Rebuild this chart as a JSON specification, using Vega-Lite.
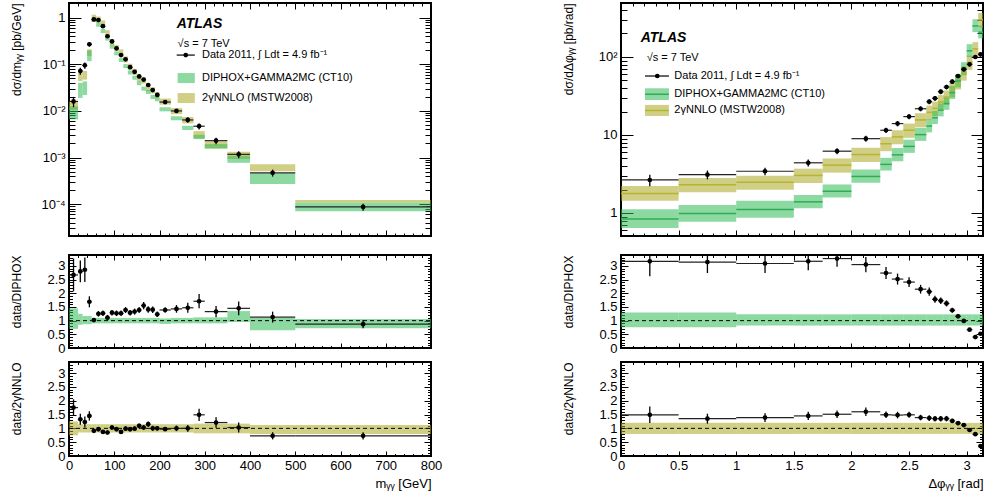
{
"$schema": "https://vega.github.io/schema/vega-lite/v6.json",
"padding": {"left": 8, "top": 1, "right": 0, "bottom": 0},
"config": {
  "font": "Liberation Sans",
  "view": {"stroke": "#000", "strokeWidth": 2},
  "axis": {"domain": false, "grid": false, "labelFont": "Liberation Sans", "labelFontSize": 13, "labelColor": "#000", "tickColor": "#000", "tickWidth": 1, "titleFont": "Liberation Sans", "titleFontSize": 12, "titleFontWeight": "normal", "titleColor": "#000", "labelOverlap": false, "labelFlush": false, "labelBound": false},
  "text": {"font": "Liberation Sans"}
},
"datasets": {
"mass": [
{"lo":0,"hi":20,"c":10,"d":0.016,"de":0.004,"D":0.009,"Dlo":0.0066,"Dhi":0.0125,"N":0.013,"Nlo":0.0105,"Nhi":0.016,"r1":2.67,"r1e":0.6,"r2":1.75,"r2e":0.3,"g1lo":0.7,"g1hi":1.45,"g2lo":0.75,"g2hi":1.25},
{"lo":20,"hi":30,"c":25,"d":0.072,"de":0.012,"D":0.028,"Dlo":0.019,"Dhi":0.04,"N":0.054,"Nlo":0.044,"Nhi":0.066,"r1":2.8,"r1e":0.4,"r2":1.33,"r2e":0.2,"g1lo":0.85,"g1hi":1.25,"g2lo":0.85,"g2hi":1.15},
{"lo":30,"hi":40,"c":35,"d":0.095,"de":0.015,"D":0.031,"Dlo":0.022,"Dhi":0.043,"N":0.058,"Nlo":0.047,"Nhi":0.072,"r1":2.86,"r1e":0.45,"r2":1.23,"r2e":0.2,"g1lo":0.87,"g1hi":1.17,"g2lo":0.85,"g2hi":1.15},
{"lo":40,"hi":50,"c":45,"d":0.27,"de":0.03,"D":0.155,"Dlo":0.117,"Dhi":0.2,"N":0.18,"Nlo":0.15,"Nhi":0.21,"r1":1.69,"r1e":0.2,"r2":1.45,"r2e":0.17,"g1lo":0.87,"g1hi":1.17,"g2lo":0.85,"g2hi":1.15},
{"lo":50,"hi":60,"c":55,"d":0.92,"de":0.06,"D":0.9,"Dlo":0.81,"Dhi":0.99,"N":1.01,"Nlo":0.86,"Nhi":1.16,"r1":1.02,"r1e":0.07,"r2":0.91,"r2e":0.06,"g1lo":0.9,"g1hi":1.1,"g2lo":0.85,"g2hi":1.15},
{"lo":60,"hi":70,"c":65,"d":0.89,"de":0.07,"D":0.712,"Dlo":0.64,"Dhi":0.78,"N":0.918,"Nlo":0.78,"Nhi":1.06,"r1":1.25,"r1e":0.1,"r2":0.97,"r2e":0.08,"g1lo":0.9,"g1hi":1.1,"g2lo":0.85,"g2hi":1.15},
{"lo":70,"hi":80,"c":75,"d":0.66,"de":0.05,"D":0.52,"Dlo":0.468,"Dhi":0.572,"N":0.759,"Nlo":0.645,"Nhi":0.873,"r1":1.27,"r1e":0.1,"r2":0.87,"r2e":0.07,"g1lo":0.9,"g1hi":1.1,"g2lo":0.85,"g2hi":1.15},
{"lo":80,"hi":90,"c":85,"d":0.4,"de":0.03,"D":0.36,"Dlo":0.324,"Dhi":0.396,"N":0.471,"Nlo":0.4,"Nhi":0.54,"r1":1.11,"r1e":0.1,"r2":0.85,"r2e":0.07,"g1lo":0.9,"g1hi":1.1,"g2lo":0.85,"g2hi":1.15},
{"lo":90,"hi":100,"c":95,"d":0.31,"de":0.025,"D":0.24,"Dlo":0.216,"Dhi":0.264,"N":0.301,"Nlo":0.256,"Nhi":0.346,"r1":1.29,"r1e":0.1,"r2":1.03,"r2e":0.08,"g1lo":0.9,"g1hi":1.1,"g2lo":0.85,"g2hi":1.15},
{"lo":100,"hi":110,"c":105,"d":0.22,"de":0.018,"D":0.173,"Dlo":0.156,"Dhi":0.19,"N":0.227,"Nlo":0.193,"Nhi":0.261,"r1":1.27,"r1e":0.1,"r2":0.97,"r2e":0.08,"g1lo":0.9,"g1hi":1.1,"g2lo":0.85,"g2hi":1.15},
{"lo":110,"hi":120,"c":115,"d":0.158,"de":0.013,"D":0.124,"Dlo":0.112,"Dhi":0.136,"N":0.182,"Nlo":0.155,"Nhi":0.209,"r1":1.27,"r1e":0.1,"r2":0.87,"r2e":0.07,"g1lo":0.9,"g1hi":1.1,"g2lo":0.85,"g2hi":1.15},
{"lo":120,"hi":130,"c":125,"d":0.128,"de":0.01,"D":0.092,"Dlo":0.083,"Dhi":0.101,"N":0.129,"Nlo":0.11,"Nhi":0.148,"r1":1.39,"r1e":0.11,"r2":0.99,"r2e":0.08,"g1lo":0.9,"g1hi":1.1,"g2lo":0.85,"g2hi":1.15},
{"lo":130,"hi":140,"c":135,"d":0.087,"de":0.007,"D":0.0674,"Dlo":0.0607,"Dhi":0.0741,"N":0.0897,"Nlo":0.0762,"Nhi":0.103,"r1":1.29,"r1e":0.1,"r2":0.97,"r2e":0.08,"g1lo":0.9,"g1hi":1.1,"g2lo":0.85,"g2hi":1.15},
{"lo":140,"hi":150,"c":145,"d":0.069,"de":0.0055,"D":0.0519,"Dlo":0.0467,"Dhi":0.0571,"N":0.0697,"Nlo":0.0592,"Nhi":0.0802,"r1":1.33,"r1e":0.11,"r2":0.99,"r2e":0.08,"g1lo":0.9,"g1hi":1.1,"g2lo":0.85,"g2hi":1.15},
{"lo":150,"hi":160,"c":155,"d":0.055,"de":0.0045,"D":0.0396,"Dlo":0.0356,"Dhi":0.0436,"N":0.0505,"Nlo":0.0429,"Nhi":0.0581,"r1":1.39,"r1e":0.11,"r2":1.09,"r2e":0.09,"g1lo":0.9,"g1hi":1.1,"g2lo":0.85,"g2hi":1.15},
{"lo":160,"hi":170,"c":165,"d":0.047,"de":0.004,"D":0.0303,"Dlo":0.0273,"Dhi":0.0333,"N":0.0456,"Nlo":0.0388,"Nhi":0.0524,"r1":1.55,"r1e":0.13,"r2":1.03,"r2e":0.09,"g1lo":0.9,"g1hi":1.1,"g2lo":0.85,"g2hi":1.15},
{"lo":170,"hi":180,"c":175,"d":0.036,"de":0.003,"D":0.0255,"Dlo":0.023,"Dhi":0.0281,"N":0.0313,"Nlo":0.0266,"Nhi":0.036,"r1":1.41,"r1e":0.12,"r2":1.15,"r2e":0.1,"g1lo":0.9,"g1hi":1.1,"g2lo":0.85,"g2hi":1.15},
{"lo":180,"hi":190,"c":185,"d":0.028,"de":0.0023,"D":0.02,"Dlo":0.018,"Dhi":0.022,"N":0.028,"Nlo":0.0238,"Nhi":0.0322,"r1":1.4,"r1e":0.12,"r2":1.0,"r2e":0.09,"g1lo":0.9,"g1hi":1.1,"g2lo":0.85,"g2hi":1.15},
{"lo":190,"hi":200,"c":195,"d":0.022,"de":0.0018,"D":0.0179,"Dlo":0.0161,"Dhi":0.0197,"N":0.022,"Nlo":0.0187,"Nhi":0.0253,"r1":1.23,"r1e":0.1,"r2":1.0,"r2e":0.08,"g1lo":0.9,"g1hi":1.1,"g2lo":0.85,"g2hi":1.15},
{"lo":200,"hi":225,"c":212.5,"d":0.0155,"de":0.0011,"D":0.01115,"Dlo":0.0098,"Dhi":0.012,"N":0.016,"Nlo":0.0136,"Nhi":0.0184,"r1":1.39,"r1e":0.1,"r2":0.97,"r2e":0.07,"g1lo":0.88,"g1hi":1.08,"g2lo":0.85,"g2hi":1.15},
{"lo":225,"hi":250,"c":237.5,"d":0.01,"de":0.001,"D":0.007,"Dlo":0.0063,"Dhi":0.0077,"N":0.01,"Nlo":0.0085,"Nhi":0.0115,"r1":1.43,"r1e":0.14,"r2":1.0,"r2e":0.1,"g1lo":0.9,"g1hi":1.1,"g2lo":0.85,"g2hi":1.15},
{"lo":250,"hi":275,"c":262.5,"d":0.0064,"de":0.0008,"D":0.00435,"Dlo":0.0039,"Dhi":0.0048,"N":0.0064,"Nlo":0.0054,"Nhi":0.0074,"r1":1.47,"r1e":0.18,"r2":1.0,"r2e":0.12,"g1lo":0.9,"g1hi":1.1,"g2lo":0.85,"g2hi":1.15},
{"lo":275,"hi":300,"c":287.5,"d":0.0047,"de":0.0007,"D":0.00275,"Dlo":0.00248,"Dhi":0.00308,"N":0.00315,"Nlo":0.00258,"Nhi":0.00369,"r1":1.71,"r1e":0.26,"r2":1.49,"r2e":0.22,"g1lo":0.9,"g1hi":1.12,"g2lo":0.82,"g2hi":1.17},
{"lo":300,"hi":350,"c":325,"d":0.0023,"de":0.00037,"D":0.00173,"Dlo":0.00156,"Dhi":0.00194,"N":0.0019,"Nlo":0.00156,"Nhi":0.00222,"r1":1.33,"r1e":0.21,"r2":1.21,"r2e":0.19,"g1lo":0.9,"g1hi":1.12,"g2lo":0.82,"g2hi":1.17},
{"lo":350,"hi":400,"c":375,"d":0.00117,"de":0.0002,"D":0.00081,"Dlo":0.00077,"Dhi":0.00109,"N":0.00114,"Nlo":0.00093,"Nhi":0.00133,"r1":1.45,"r1e":0.25,"r2":1.03,"r2e":0.18,"g1lo":0.95,"g1hi":1.35,"g2lo":0.82,"g2hi":1.17},
{"lo":400,"hi":500,"c":450,"d":0.00047,"de":0.00008,"D":0.000416,"Dlo":0.00027,"Dhi":0.00046,"N":0.00064,"Nlo":0.00051,"Nhi":0.00072,"r1":1.13,"r1e":0.2,"r2":0.73,"r2e":0.13,"g1lo":0.65,"g1hi":1.1,"g2lo":0.8,"g2hi":1.12},
{"lo":500,"hi":800,"c":650,"d":0.000087,"de":0.000015,"D":0.000087,"Dlo":0.00007,"Dhi":0.000107,"N":0.000115,"Nlo":0.000107,"Nhi":0.000123,"r1":0.87,"r1e":0.15,"r2":0.73,"r2e":0.13,"g1lo":0.72,"g1hi":1.06,"g2lo":0.8,"g2hi":1.12}
],
"dphi": [
{"lo":0,"hi":0.5,"c":0.25,"d":2.65,"de":0.45,"D":0.836,"Dlo":0.64,"Dhi":1.12,"N":1.78,"Nlo":1.43,"Nhi":2.22,"r1":3.17,"r1e":0.55,"r2":1.49,"r2e":0.3,"g1lo":0.76,"g1hi":1.3,"g2lo":0.8,"g2hi":1.2},
{"lo":0.5,"hi":1,"c":0.75,"d":3.1,"de":0.4,"D":0.987,"Dlo":0.77,"Dhi":1.27,"N":2.3,"Nlo":1.84,"Nhi":2.8,"r1":3.14,"r1e":0.4,"r2":1.35,"r2e":0.18,"g1lo":0.76,"g1hi":1.3,"g2lo":0.8,"g2hi":1.2},
{"lo":1,"hi":1.5,"c":1.25,"d":3.43,"de":0.38,"D":1.11,"Dlo":0.87,"Dhi":1.43,"N":2.47,"Nlo":1.98,"Nhi":3.0,"r1":3.09,"r1e":0.35,"r2":1.39,"r2e":0.16,"g1lo":0.82,"g1hi":1.23,"g2lo":0.8,"g2hi":1.2},
{"lo":1.5,"hi":1.75,"c":1.625,"d":4.4,"de":0.45,"D":1.39,"Dlo":1.15,"Dhi":1.7,"N":3.03,"Nlo":2.42,"Nhi":3.7,"r1":3.17,"r1e":0.33,"r2":1.45,"r2e":0.15,"g1lo":0.82,"g1hi":1.23,"g2lo":0.8,"g2hi":1.2},
{"lo":1.75,"hi":2,"c":1.875,"d":6.2,"de":0.55,"D":1.9,"Dlo":1.58,"Dhi":2.32,"N":4.11,"Nlo":3.29,"Nhi":5.0,"r1":3.27,"r1e":0.3,"r2":1.51,"r2e":0.14,"g1lo":0.82,"g1hi":1.23,"g2lo":0.8,"g2hi":1.2},
{"lo":2,"hi":2.25,"c":2.125,"d":8.97,"de":0.8,"D":2.94,"Dlo":2.44,"Dhi":3.6,"N":5.61,"Nlo":4.5,"Nhi":6.85,"r1":3.05,"r1e":0.28,"r2":1.6,"r2e":0.15,"g1lo":0.82,"g1hi":1.23,"g2lo":0.8,"g2hi":1.2},
{"lo":2.25,"hi":2.35,"c":2.3,"d":11.5,"de":0.9,"D":4.2,"Dlo":3.5,"Dhi":5.1,"N":7.72,"Nlo":6.2,"Nhi":9.4,"r1":2.74,"r1e":0.22,"r2":1.49,"r2e":0.12,"g1lo":0.82,"g1hi":1.23,"g2lo":0.8,"g2hi":1.2},
{"lo":2.35,"hi":2.45,"c":2.4,"d":14.0,"de":1.1,"D":5.56,"Dlo":4.6,"Dhi":6.8,"N":9.46,"Nlo":7.6,"Nhi":11.5,"r1":2.52,"r1e":0.2,"r2":1.48,"r2e":0.12,"g1lo":0.82,"g1hi":1.23,"g2lo":0.8,"g2hi":1.2},
{"lo":2.45,"hi":2.55,"c":2.5,"d":17.2,"de":1.3,"D":7.14,"Dlo":5.9,"Dhi":8.7,"N":11.5,"Nlo":9.2,"Nhi":14.0,"r1":2.41,"r1e":0.18,"r2":1.49,"r2e":0.11,"g1lo":0.82,"g1hi":1.23,"g2lo":0.8,"g2hi":1.2},
{"lo":2.55,"hi":2.65,"c":2.6,"d":21.7,"de":1.6,"D":10.1,"Dlo":8.4,"Dhi":12.3,"N":15.6,"Nlo":12.5,"Nhi":19.0,"r1":2.15,"r1e":0.16,"r2":1.39,"r2e":0.1,"g1lo":0.82,"g1hi":1.23,"g2lo":0.8,"g2hi":1.2},
{"lo":2.65,"hi":2.7,"c":2.675,"d":26.7,"de":1.9,"D":13.0,"Dlo":10.8,"Dhi":15.9,"N":19.5,"Nlo":15.6,"Nhi":23.8,"r1":2.06,"r1e":0.15,"r2":1.37,"r2e":0.1,"g1lo":0.82,"g1hi":1.23,"g2lo":0.8,"g2hi":1.2},
{"lo":2.7,"hi":2.75,"c":2.725,"d":29.5,"de":2.1,"D":16.6,"Dlo":13.8,"Dhi":20.3,"N":21.9,"Nlo":17.5,"Nhi":26.7,"r1":1.78,"r1e":0.13,"r2":1.35,"r2e":0.1,"g1lo":0.82,"g1hi":1.23,"g2lo":0.8,"g2hi":1.2},
{"lo":2.75,"hi":2.8,"c":2.775,"d":35.9,"de":2.5,"D":20.8,"Dlo":17.3,"Dhi":25.4,"N":26.6,"Nlo":21.3,"Nhi":32.5,"r1":1.73,"r1e":0.12,"r2":1.35,"r2e":0.1,"g1lo":0.82,"g1hi":1.23,"g2lo":0.8,"g2hi":1.2},
{"lo":2.8,"hi":2.85,"c":2.825,"d":41.2,"de":2.8,"D":25.3,"Dlo":21.0,"Dhi":30.9,"N":30.5,"Nlo":24.4,"Nhi":37.2,"r1":1.63,"r1e":0.11,"r2":1.35,"r2e":0.1,"g1lo":0.82,"g1hi":1.23,"g2lo":0.8,"g2hi":1.2},
{"lo":2.85,"hi":2.9,"c":2.875,"d":48.2,"de":3.2,"D":34.9,"Dlo":29.0,"Dhi":42.6,"N":38.0,"Nlo":30.4,"Nhi":46.4,"r1":1.38,"r1e":0.09,"r2":1.27,"r2e":0.08,"g1lo":0.82,"g1hi":1.23,"g2lo":0.8,"g2hi":1.2},
{"lo":2.9,"hi":2.95,"c":2.925,"d":57.0,"de":3.7,"D":49.1,"Dlo":40.8,"Dhi":59.9,"N":47.9,"Nlo":38.3,"Nhi":58.4,"r1":1.16,"r1e":0.08,"r2":1.19,"r2e":0.08,"g1lo":0.82,"g1hi":1.23,"g2lo":0.8,"g2hi":1.2},
{"lo":2.95,"hi":3.0,"c":2.975,"d":69.5,"de":4.5,"D":70.2,"Dlo":58.3,"Dhi":85.6,"N":62.1,"Nlo":49.7,"Nhi":75.8,"r1":0.99,"r1e":0.07,"r2":1.12,"r2e":0.07,"g1lo":0.82,"g1hi":1.23,"g2lo":0.8,"g2hi":1.2},
{"lo":3.0,"hi":3.05,"c":3.025,"d":80.5,"de":5,"D":120,"Dlo":100,"Dhi":146,"N":85.6,"Nlo":68.5,"Nhi":104,"r1":0.67,"r1e":0.05,"r2":0.94,"r2e":0.06,"g1lo":0.82,"g1hi":1.23,"g2lo":0.8,"g2hi":1.2},
{"lo":3.05,"hi":3.1,"c":3.075,"d":100,"de":6,"D":250,"Dlo":208,"Dhi":305,"N":127,"Nlo":102,"Nhi":155,"r1":0.4,"r1e":0.03,"r2":0.79,"r2e":0.05,"g1lo":0.82,"g1hi":1.23,"g2lo":0.8,"g2hi":1.2},
{"lo":3.1,"hi":3.1416,"c":3.12,"d":108,"de":7,"D":208,"Dlo":173,"Dhi":254,"N":300,"Nlo":240,"Nhi":366,"r1":0.52,"r1e":0.04,"r2":0.36,"r2e":0.03,"g1lo":0.82,"g1hi":1.23,"g2lo":0.8,"g2hi":1.2}
]
},
"bounds": "flush",
"spacing": 552,
"hconcat": [
{
 "bounds": "flush",
 "spacing": 19,
 "vconcat": [
  {
   "width": 362, "height": 233,
   "data": {"name": "mass"},
   "resolve": {"axis": {"x": "independent", "y": "independent"}},
   "layer": [
    {"mark": {"type": "rect", "color": "#a9a820", "opacity": 0.55, "clip": true},
     "encoding": {
      "x": {"field": "lo", "type": "quantitative", "scale": {"domain": [0, 800], "nice": false, "zero": false},
            "axis": {"orient": "bottom", "values": [0,20,40,60,80,100,120,140,160,180,200,220,240,260,280,300,320,340,360,380,400,420,440,460,480,500,520,540,560,580,600,620,640,660,680,700,720,740,760,780,800], "labels": false, "title": null, "tickSize": {"condition": {"test": "datum.value % 100 == 0", "value": -6}, "value": -3}}},
      "x2": {"field": "hi"},
      "y": {"field": "Nlo", "type": "quantitative", "scale": {"type": "log", "domain": [0.0000207, 2.07], "nice": false},
            "axis": {"orient": "left", "values": [0.00003,0.00004,0.00005,0.00006,0.00007,0.00008,0.00009,0.0001,0.0002,0.0003,0.0004,0.0005,0.0006,0.0007,0.0008,0.0009,0.001,0.002,0.003,0.004,0.005,0.006,0.007,0.008,0.009,0.01,0.02,0.03,0.04,0.05,0.06,0.07,0.08,0.09,0.1,0.2,0.3,0.4,0.5,0.6,0.7,0.8,0.9,1],
                     "labelExpr": "datum.value == 1 ? '1' : datum.value == 0.1 ? '10⁻¹' : datum.value == 0.01 ? '10⁻²' : datum.value == 0.001 ? '10⁻³' : datum.value == 0.0001 ? '10⁻⁴' : ''",
                     "title": "dσ/dmᵧᵧ [pb/GeV]", "titleAnchor": "end", "titleX": -46, "labelPadding": 16,
                     "tickSize": {"condition": {"test": "indexof([0.0001,0.001,0.01,0.1,1], datum.value) >= 0", "value": -12}, "value": -6}}},
      "y2": {"field": "Nhi"}
     }},
    {"mark": {"type": "rect", "color": "#2dbb55", "opacity": 0.55, "clip": true},
     "encoding": {"x": {"field": "lo", "type": "quantitative", "axis": null}, "x2": {"field": "hi"}, "y": {"field": "Dlo", "type": "quantitative", "axis": null}, "y2": {"field": "Dhi"}}},
    {"mark": {"type": "rule", "color": "#222", "strokeWidth": 1.2},
     "encoding": {
      "x": {"field": "lo", "type": "quantitative", "axis": {"orient": "top", "values": [0,20,40,60,80,100,120,140,160,180,200,220,240,260,280,300,320,340,360,380,400,420,440,460,480,500,520,540,560,580,600,620,640,660,680,700,720,740,760,780,800], "labels": false, "title": null, "tickSize": {"condition": {"test": "datum.value % 100 == 0", "value": -6}, "value": -3}}},
      "x2": {"field": "hi"},
      "y": {"field": "d", "type": "quantitative", "axis": {"orient": "right", "values": [0.00003,0.00004,0.00005,0.00006,0.00007,0.00008,0.00009,0.0001,0.0002,0.0003,0.0004,0.0005,0.0006,0.0007,0.0008,0.0009,0.001,0.002,0.003,0.004,0.005,0.006,0.007,0.008,0.009,0.01,0.02,0.03,0.04,0.05,0.06,0.07,0.08,0.09,0.1,0.2,0.3,0.4,0.5,0.6,0.7,0.8,0.9,1], "labels": false, "title": null, "tickSize": {"condition": {"test": "indexof([0.0001,0.001,0.01,0.1,1], datum.value) >= 0", "value": -12}, "value": -6}}}
     }},
    {"mark": {"type": "errorbar", "color": "#000", "thickness": 1.3, "clip": true},
     "encoding": {"x": {"field": "c", "type": "quantitative", "axis": null}, "y": {"field": "d", "type": "quantitative", "axis": null}, "yError": {"field": "de"}}},
    {"mark": {"type": "point", "filled": true, "color": "#000", "size": 22, "opacity": 1},
     "encoding": {"x": {"field": "c", "type": "quantitative", "axis": null}, "y": {"field": "d", "type": "quantitative", "axis": null}}},
    {"data": {"values": [{}]}, "mark": {"type": "text", "text": "ATLAS", "fontSize": 14, "fontStyle": "italic", "fontWeight": "bold", "align": "left", "baseline": "middle"},
     "encoding": {"x": {"datum": 238, "type": "quantitative", "axis": null}, "y": {"datum": 0.74, "type": "quantitative", "axis": null}}},
    {"data": {"values": [{}]}, "mark": {"type": "text", "text": "√s = 7 TeV", "fontSize": 11, "align": "left", "baseline": "middle"},
     "encoding": {"x": {"datum": 240, "type": "quantitative", "axis": null}, "y": {"datum": 0.273, "type": "quantitative", "axis": null}}},
    {"data": {"values": [{}]}, "mark": {"type": "rule", "color": "#000", "strokeWidth": 1.2},
     "encoding": {"x": {"datum": 238, "type": "quantitative", "axis": null}, "x2": {"datum": 278}, "y": {"datum": 0.158, "type": "quantitative", "axis": null}}},
    {"data": {"values": [{}]}, "mark": {"type": "point", "filled": true, "color": "#000", "size": 22, "opacity": 1},
     "encoding": {"x": {"datum": 258, "type": "quantitative", "axis": null}, "y": {"datum": 0.158, "type": "quantitative", "axis": null}}},
    {"data": {"values": [{}]}, "mark": {"type": "text", "text": "Data 2011, ∫ Ldt = 4.9 fb⁻¹", "fontSize": 11, "align": "left", "baseline": "middle"},
     "encoding": {"x": {"datum": 294, "type": "quantitative", "axis": null}, "y": {"datum": 0.158, "type": "quantitative", "axis": null}}},
    {"data": {"values": [{}]}, "mark": {"type": "rect", "color": "#2dbb55", "opacity": 0.55},
     "encoding": {"x": {"datum": 240, "type": "quantitative", "axis": null}, "x2": {"datum": 278}, "y": {"datum": 0.0396, "type": "quantitative", "axis": null}, "y2": {"datum": 0.065}}},
    {"data": {"values": [{}]}, "mark": {"type": "text", "text": "DIPHOX+GAMMA2MC (CT10)", "fontSize": 11, "align": "left", "baseline": "middle"},
     "encoding": {"x": {"datum": 294, "type": "quantitative", "axis": null}, "y": {"datum": 0.0508, "type": "quantitative", "axis": null}}},
    {"data": {"values": [{}]}, "mark": {"type": "rect", "color": "#a9a820", "opacity": 0.55},
     "encoding": {"x": {"datum": 240, "type": "quantitative", "axis": null}, "x2": {"datum": 278}, "y": {"datum": 0.0148, "type": "quantitative", "axis": null}, "y2": {"datum": 0.0242}}},
    {"data": {"values": [{}]}, "mark": {"type": "text", "text": "2γNNLO (MSTW2008)", "fontSize": 11, "align": "left", "baseline": "middle"},
     "encoding": {"x": {"datum": 294, "type": "quantitative", "axis": null}, "y": {"datum": 0.0192, "type": "quantitative", "axis": null}}}
   ]
  },
  {
   "bounds": "flush",
   "spacing": 14,
   "vconcat": [
    {
     "width": 362, "height": 93,
     "data": {"name": "mass"},
     "resolve": {"axis": {"x": "independent", "y": "independent"}},
     "layer": [
      {"mark": {"type": "rect", "color": "#2dbb55", "opacity": 0.55, "clip": true},
       "encoding": {
        "x": {"field": "lo", "type": "quantitative", "scale": {"domain": [0, 800], "nice": false, "zero": false},
              "axis": {"orient": "bottom", "values": [0,20,40,60,80,100,120,140,160,180,200,220,240,260,280,300,320,340,360,380,400,420,440,460,480,500,520,540,560,580,600,620,640,660,680,700,720,740,760,780,800], "labels": false, "title": null, "tickSize": {"condition": {"test": "datum.value % 100 == 0", "value": -5}, "value": -2.5}}},
        "x2": {"field": "hi"},
        "y": {"field": "g1lo", "type": "quantitative", "scale": {"domain": [0, 3.4], "nice": false, "zero": false},
              "axis": {"orient": "left", "values": [0,0.1,0.2,0.3,0.4,0.5,0.6,0.7,0.8,0.9,1,1.1,1.2,1.3,1.4,1.5,1.6,1.7,1.8,1.9,2,2.1,2.2,2.3,2.4,2.5,2.6,2.7,2.8,2.9,3,3.1,3.2,3.3], "format": "~g",
                       "labelExpr": "indexof([0,0.5,1,1.5,2,2.5,3], datum.value) >= 0 ? datum.label : ''",
                       "title": "data/DIPHOX", "titleAnchor": "end", "titleX": -46, "labelPadding": 11,
                       "tickSize": {"condition": {"test": "indexof([0,0.5,1,1.5,2,2.5,3], datum.value) >= 0", "value": -7}, "value": -3.5}}},
        "y2": {"field": "g1hi"}
       }},
      {"data": {"values": [{}]}, "mark": {"type": "rule", "color": "#000", "strokeWidth": 1, "strokeDash": [4, 3]},
       "encoding": {
        "x": {"datum": 0, "type": "quantitative", "axis": {"orient": "top", "values": [0,20,40,60,80,100,120,140,160,180,200,220,240,260,280,300,320,340,360,380,400,420,440,460,480,500,520,540,560,580,600,620,640,660,680,700,720,740,760,780,800], "labels": false, "title": null, "tickSize": {"condition": {"test": "datum.value % 100 == 0", "value": -5}, "value": -2.5}}},
        "x2": {"datum": 800},
        "y": {"datum": 1, "type": "quantitative", "axis": {"orient": "right", "values": [0,0.1,0.2,0.3,0.4,0.5,0.6,0.7,0.8,0.9,1,1.1,1.2,1.3,1.4,1.5,1.6,1.7,1.8,1.9,2,2.1,2.2,2.3,2.4,2.5,2.6,2.7,2.8,2.9,3,3.1,3.2,3.3], "labels": false, "title": null, "tickSize": {"condition": {"test": "indexof([0,0.5,1,1.5,2,2.5,3], datum.value) >= 0", "value": -7}, "value": -3.5}}}
       }},
      {"mark": {"type": "rule", "color": "#222", "strokeWidth": 1.2},
       "encoding": {"x": {"field": "lo", "type": "quantitative", "axis": null}, "x2": {"field": "hi"}, "y": {"field": "r1", "type": "quantitative", "axis": null}}},
      {"mark": {"type": "errorbar", "color": "#000", "thickness": 1.3, "clip": true},
       "encoding": {"x": {"field": "c", "type": "quantitative", "axis": null}, "y": {"field": "r1", "type": "quantitative", "axis": null}, "yError": {"field": "r1e"}}},
      {"mark": {"type": "point", "filled": true, "color": "#000", "size": 22, "opacity": 1},
       "encoding": {"x": {"field": "c", "type": "quantitative", "axis": null}, "y": {"field": "r1", "type": "quantitative", "axis": null}}}
     ]
    },
    {
     "width": 362, "height": 94,
     "data": {"name": "mass"},
     "resolve": {"axis": {"x": "independent", "y": "independent"}},
     "layer": [
      {"mark": {"type": "rect", "color": "#a9a820", "opacity": 0.55, "clip": true},
       "encoding": {
        "x": {"field": "lo", "type": "quantitative", "scale": {"domain": [0, 800], "nice": false, "zero": false},
              "axis": {"orient": "bottom", "values": [0,20,40,60,80,100,120,140,160,180,200,220,240,260,280,300,320,340,360,380,400,420,440,460,480,500,520,540,560,580,600,620,640,660,680,700,720,740,760,780,800], "format": "d",
                       "labelExpr": "datum.value % 100 == 0 ? datum.label : ''", "labelFontSize": 13, "labelPadding": 8,
                       "title": "mᵧᵧ [GeV]", "titleAnchor": "end", "titleFontSize": 13, "titlePadding": 3,
                       "tickSize": {"condition": {"test": "datum.value % 100 == 0", "value": -5}, "value": -2.5}}},
        "x2": {"field": "hi"},
        "y": {"field": "g2lo", "type": "quantitative", "scale": {"domain": [0, 3.4], "nice": false, "zero": false},
              "axis": {"orient": "left", "values": [0,0.1,0.2,0.3,0.4,0.5,0.6,0.7,0.8,0.9,1,1.1,1.2,1.3,1.4,1.5,1.6,1.7,1.8,1.9,2,2.1,2.2,2.3,2.4,2.5,2.6,2.7,2.8,2.9,3,3.1,3.2,3.3], "format": "~g",
                       "labelExpr": "indexof([0,0.5,1,1.5,2,2.5,3], datum.value) >= 0 ? datum.label : ''",
                       "title": "data/2γNNLO", "titleAnchor": "end", "titleX": -46, "labelPadding": 11,
                       "tickSize": {"condition": {"test": "indexof([0,0.5,1,1.5,2,2.5,3], datum.value) >= 0", "value": -7}, "value": -3.5}}},
        "y2": {"field": "g2hi"}
       }},
      {"data": {"values": [{}]}, "mark": {"type": "rule", "color": "#000", "strokeWidth": 1, "strokeDash": [4, 3]},
       "encoding": {
        "x": {"datum": 0, "type": "quantitative", "axis": {"orient": "top", "values": [0,20,40,60,80,100,120,140,160,180,200,220,240,260,280,300,320,340,360,380,400,420,440,460,480,500,520,540,560,580,600,620,640,660,680,700,720,740,760,780,800], "labels": false, "title": null, "tickSize": {"condition": {"test": "datum.value % 100 == 0", "value": -5}, "value": -2.5}}},
        "x2": {"datum": 800},
        "y": {"datum": 1, "type": "quantitative", "axis": {"orient": "right", "values": [0,0.1,0.2,0.3,0.4,0.5,0.6,0.7,0.8,0.9,1,1.1,1.2,1.3,1.4,1.5,1.6,1.7,1.8,1.9,2,2.1,2.2,2.3,2.4,2.5,2.6,2.7,2.8,2.9,3,3.1,3.2,3.3], "labels": false, "title": null, "tickSize": {"condition": {"test": "indexof([0,0.5,1,1.5,2,2.5,3], datum.value) >= 0", "value": -7}, "value": -3.5}}}
       }},
      {"mark": {"type": "rule", "color": "#222", "strokeWidth": 1.2},
       "encoding": {"x": {"field": "lo", "type": "quantitative", "axis": null}, "x2": {"field": "hi"}, "y": {"field": "r2", "type": "quantitative", "axis": null}}},
      {"mark": {"type": "errorbar", "color": "#000", "thickness": 1.3, "clip": true},
       "encoding": {"x": {"field": "c", "type": "quantitative", "axis": null}, "y": {"field": "r2", "type": "quantitative", "axis": null}, "yError": {"field": "r2e"}}},
      {"mark": {"type": "point", "filled": true, "color": "#000", "size": 22, "opacity": 1},
       "encoding": {"x": {"field": "c", "type": "quantitative", "axis": null}, "y": {"field": "r2", "type": "quantitative", "axis": null}}}
     ]
    }
   ]
  }
 ]
},
{
 "bounds": "flush",
 "spacing": 19,
 "vconcat": [
  {
   "width": 362, "height": 233,
   "data": {"name": "dphi"},
   "resolve": {"axis": {"x": "independent", "y": "independent"}},
   "layer": [
    {"mark": {"type": "rect", "color": "#a9a820", "opacity": 0.55, "clip": true},
     "encoding": {
      "x": {"field": "lo", "type": "quantitative", "scale": {"domain": [0, 3.1416], "nice": false, "zero": false},
            "axis": {"orient": "bottom", "values": [0,0.1,0.2,0.3,0.4,0.5,0.6,0.7,0.8,0.9,1,1.1,1.2,1.3,1.4,1.5,1.6,1.7,1.8,1.9,2,2.1,2.2,2.3,2.4,2.5,2.6,2.7,2.8,2.9,3,3.1], "labels": false, "title": null, "tickSize": {"condition": {"test": "indexof([0,0.5,1,1.5,2,2.5,3], datum.value) >= 0", "value": -6}, "value": -3}}},
      "x2": {"field": "hi"},
      "y": {"field": "Nlo", "type": "quantitative", "scale": {"type": "log", "domain": [0.507, 492], "nice": false},
            "axis": {"orient": "left", "values": [0.6,0.7,0.8,0.9,1,2,3,4,5,6,7,8,9,10,20,30,40,50,60,70,80,90,100,200,300,400],
                     "labelExpr": "datum.value == 1 ? '1' : datum.value == 10 ? '10' : datum.value == 100 ? '10²' : ''",
                     "title": "dσ/dΔφᵧᵧ [pb/rad]", "titleAnchor": "end", "titleX": -46, "labelPadding": 16,
                     "tickSize": {"condition": {"test": "indexof([1,10,100], datum.value) >= 0", "value": -12}, "value": -6}}},
      "y2": {"field": "Nhi"}
     }},
    {"mark": {"type": "rect", "color": "#2dbb55", "opacity": 0.55, "clip": true},
     "encoding": {"x": {"field": "lo", "type": "quantitative", "axis": null}, "x2": {"field": "hi"}, "y": {"field": "Dlo", "type": "quantitative", "axis": null}, "y2": {"field": "Dhi"}}},
    {"mark": {"type": "rule", "color": "#b5b530", "strokeWidth": 1.5},
     "encoding": {"x": {"field": "lo", "type": "quantitative", "axis": null}, "x2": {"field": "hi"}, "y": {"field": "N", "type": "quantitative", "axis": null}}},
    {"mark": {"type": "rule", "color": "#33aa55", "strokeWidth": 1.5},
     "encoding": {"x": {"field": "lo", "type": "quantitative", "axis": null}, "x2": {"field": "hi"}, "y": {"field": "D", "type": "quantitative", "axis": null}}},
    {"mark": {"type": "rule", "color": "#222", "strokeWidth": 1.2},
     "encoding": {
      "x": {"field": "lo", "type": "quantitative", "axis": {"orient": "top", "values": [0,0.1,0.2,0.3,0.4,0.5,0.6,0.7,0.8,0.9,1,1.1,1.2,1.3,1.4,1.5,1.6,1.7,1.8,1.9,2,2.1,2.2,2.3,2.4,2.5,2.6,2.7,2.8,2.9,3,3.1], "labels": false, "title": null, "tickSize": {"condition": {"test": "indexof([0,0.5,1,1.5,2,2.5,3], datum.value) >= 0", "value": -6}, "value": -3}}},
      "x2": {"field": "hi"},
      "y": {"field": "d", "type": "quantitative", "axis": {"orient": "right", "values": [0.6,0.7,0.8,0.9,1,2,3,4,5,6,7,8,9,10,20,30,40,50,60,70,80,90,100,200,300,400], "labels": false, "title": null, "tickSize": {"condition": {"test": "indexof([1,10,100], datum.value) >= 0", "value": -12}, "value": -6}}}
     }},
    {"mark": {"type": "errorbar", "color": "#000", "thickness": 1.3, "clip": true},
     "encoding": {"x": {"field": "c", "type": "quantitative", "axis": null}, "y": {"field": "d", "type": "quantitative", "axis": null}, "yError": {"field": "de"}}},
    {"mark": {"type": "point", "filled": true, "color": "#000", "size": 22, "opacity": 1},
     "encoding": {"x": {"field": "c", "type": "quantitative", "axis": null}, "y": {"field": "d", "type": "quantitative", "axis": null}}},
    {"data": {"values": [{}]}, "mark": {"type": "text", "text": "ATLAS", "fontSize": 14, "fontStyle": "italic", "fontWeight": "bold", "align": "left", "baseline": "middle"},
     "encoding": {"x": {"datum": 0.171, "type": "quantitative", "axis": null}, "y": {"datum": 177, "type": "quantitative", "axis": null}}},
    {"data": {"values": [{}]}, "mark": {"type": "text", "text": "√s = 7 TeV", "fontSize": 11, "align": "left", "baseline": "middle"},
     "encoding": {"x": {"datum": 0.223, "type": "quantitative", "axis": null}, "y": {"datum": 98, "type": "quantitative", "axis": null}}},
    {"data": {"values": [{}]}, "mark": {"type": "rule", "color": "#000", "strokeWidth": 1.2},
     "encoding": {"x": {"datum": 0.208, "type": "quantitative", "axis": null}, "x2": {"datum": 0.416}, "y": {"datum": 57, "type": "quantitative", "axis": null}}},
    {"data": {"values": [{}]}, "mark": {"type": "point", "filled": true, "color": "#000", "size": 22, "opacity": 1},
     "encoding": {"x": {"datum": 0.315, "type": "quantitative", "axis": null}, "y": {"datum": 57, "type": "quantitative", "axis": null}}},
    {"data": {"values": [{}]}, "mark": {"type": "text", "text": "Data 2011, ∫ Ldt = 4.9 fb⁻¹", "fontSize": 11, "align": "left", "baseline": "middle"},
     "encoding": {"x": {"datum": 0.463, "type": "quantitative", "axis": null}, "y": {"datum": 57, "type": "quantitative", "axis": null}}},
    {"data": {"values": [{}]}, "mark": {"type": "rect", "color": "#2dbb55", "opacity": 0.55},
     "encoding": {"x": {"datum": 0.208, "type": "quantitative", "axis": null}, "x2": {"datum": 0.416}, "y": {"datum": 28.1, "type": "quantitative", "axis": null}, "y2": {"datum": 39.7}}},
    {"data": {"values": [{}]}, "mark": {"type": "rule", "color": "#33aa55", "strokeWidth": 1.5},
     "encoding": {"x": {"datum": 0.208, "type": "quantitative", "axis": null}, "x2": {"datum": 0.416}, "y": {"datum": 33.3, "type": "quantitative", "axis": null}}},
    {"data": {"values": [{}]}, "mark": {"type": "text", "text": "DIPHOX+GAMMA2MC (CT10)", "fontSize": 11, "align": "left", "baseline": "middle"},
     "encoding": {"x": {"datum": 0.463, "type": "quantitative", "axis": null}, "y": {"datum": 33.3, "type": "quantitative", "axis": null}}},
    {"data": {"values": [{}]}, "mark": {"type": "rect", "color": "#a9a820", "opacity": 0.55},
     "encoding": {"x": {"datum": 0.208, "type": "quantitative", "axis": null}, "x2": {"datum": 0.416}, "y": {"datum": 17.5, "type": "quantitative", "axis": null}, "y2": {"datum": 24.3}}},
    {"data": {"values": [{}]}, "mark": {"type": "rule", "color": "#b5b530", "strokeWidth": 1.5},
     "encoding": {"x": {"datum": 0.208, "type": "quantitative", "axis": null}, "x2": {"datum": 0.416}, "y": {"datum": 20.6, "type": "quantitative", "axis": null}}},
    {"data": {"values": [{}]}, "mark": {"type": "text", "text": "2γNNLO (MSTW2008)", "fontSize": 11, "align": "left", "baseline": "middle"},
     "encoding": {"x": {"datum": 0.463, "type": "quantitative", "axis": null}, "y": {"datum": 20.6, "type": "quantitative", "axis": null}}}
   ]
  },
  {
   "bounds": "flush",
   "spacing": 14,
   "vconcat": [
    {
     "width": 362, "height": 93,
     "data": {"name": "dphi"},
     "resolve": {"axis": {"x": "independent", "y": "independent"}},
     "layer": [
      {"mark": {"type": "rect", "color": "#2dbb55", "opacity": 0.55, "clip": true},
       "encoding": {
        "x": {"field": "lo", "type": "quantitative", "scale": {"domain": [0, 3.1416], "nice": false, "zero": false},
              "axis": {"orient": "bottom", "values": [0,0.1,0.2,0.3,0.4,0.5,0.6,0.7,0.8,0.9,1,1.1,1.2,1.3,1.4,1.5,1.6,1.7,1.8,1.9,2,2.1,2.2,2.3,2.4,2.5,2.6,2.7,2.8,2.9,3,3.1], "labels": false, "title": null, "tickSize": {"condition": {"test": "indexof([0,0.5,1,1.5,2,2.5,3], datum.value) >= 0", "value": -5}, "value": -2.5}}},
        "x2": {"field": "hi"},
        "y": {"field": "g1lo", "type": "quantitative", "scale": {"domain": [0, 3.4], "nice": false, "zero": false},
              "axis": {"orient": "left", "values": [0,0.1,0.2,0.3,0.4,0.5,0.6,0.7,0.8,0.9,1,1.1,1.2,1.3,1.4,1.5,1.6,1.7,1.8,1.9,2,2.1,2.2,2.3,2.4,2.5,2.6,2.7,2.8,2.9,3,3.1,3.2,3.3], "format": "~g",
                       "labelExpr": "indexof([0,0.5,1,1.5,2,2.5,3], datum.value) >= 0 ? datum.label : ''",
                       "title": "data/DIPHOX", "titleAnchor": "end", "titleX": -46, "labelPadding": 11,
                       "tickSize": {"condition": {"test": "indexof([0,0.5,1,1.5,2,2.5,3], datum.value) >= 0", "value": -7}, "value": -3.5}}},
        "y2": {"field": "g1hi"}
       }},
      {"data": {"values": [{}]}, "mark": {"type": "rule", "color": "#000", "strokeWidth": 1, "strokeDash": [4, 3]},
       "encoding": {
        "x": {"datum": 0, "type": "quantitative", "axis": {"orient": "top", "values": [0,0.1,0.2,0.3,0.4,0.5,0.6,0.7,0.8,0.9,1,1.1,1.2,1.3,1.4,1.5,1.6,1.7,1.8,1.9,2,2.1,2.2,2.3,2.4,2.5,2.6,2.7,2.8,2.9,3,3.1], "labels": false, "title": null, "tickSize": {"condition": {"test": "indexof([0,0.5,1,1.5,2,2.5,3], datum.value) >= 0", "value": -5}, "value": -2.5}}},
        "x2": {"datum": 3.1416},
        "y": {"datum": 1, "type": "quantitative", "axis": {"orient": "right", "values": [0,0.1,0.2,0.3,0.4,0.5,0.6,0.7,0.8,0.9,1,1.1,1.2,1.3,1.4,1.5,1.6,1.7,1.8,1.9,2,2.1,2.2,2.3,2.4,2.5,2.6,2.7,2.8,2.9,3,3.1,3.2,3.3], "labels": false, "title": null, "tickSize": {"condition": {"test": "indexof([0,0.5,1,1.5,2,2.5,3], datum.value) >= 0", "value": -7}, "value": -3.5}}}
       }},
      {"mark": {"type": "rule", "color": "#222", "strokeWidth": 1.2},
       "encoding": {"x": {"field": "lo", "type": "quantitative", "axis": null}, "x2": {"field": "hi"}, "y": {"field": "r1", "type": "quantitative", "axis": null}}},
      {"mark": {"type": "errorbar", "color": "#000", "thickness": 1.3, "clip": true},
       "encoding": {"x": {"field": "c", "type": "quantitative", "axis": null}, "y": {"field": "r1", "type": "quantitative", "axis": null}, "yError": {"field": "r1e"}}},
      {"mark": {"type": "point", "filled": true, "color": "#000", "size": 22, "opacity": 1},
       "encoding": {"x": {"field": "c", "type": "quantitative", "axis": null}, "y": {"field": "r1", "type": "quantitative", "axis": null}}}
     ]
    },
    {
     "width": 362, "height": 94,
     "data": {"name": "dphi"},
     "resolve": {"axis": {"x": "independent", "y": "independent"}},
     "layer": [
      {"mark": {"type": "rect", "color": "#a9a820", "opacity": 0.55, "clip": true},
       "encoding": {
        "x": {"field": "lo", "type": "quantitative", "scale": {"domain": [0, 3.1416], "nice": false, "zero": false},
              "axis": {"orient": "bottom", "values": [0,0.1,0.2,0.3,0.4,0.5,0.6,0.7,0.8,0.9,1,1.1,1.2,1.3,1.4,1.5,1.6,1.7,1.8,1.9,2,2.1,2.2,2.3,2.4,2.5,2.6,2.7,2.8,2.9,3,3.1], "format": "~g",
                       "labelExpr": "indexof([0,0.5,1,1.5,2,2.5,3], datum.value) >= 0 ? datum.label : ''", "labelFontSize": 13, "labelPadding": 8,
                       "title": "Δφᵧᵧ [rad]", "titleAnchor": "end", "titleFontSize": 13, "titlePadding": 3,
                       "tickSize": {"condition": {"test": "indexof([0,0.5,1,1.5,2,2.5,3], datum.value) >= 0", "value": -5}, "value": -2.5}}},
        "x2": {"field": "hi"},
        "y": {"field": "g2lo", "type": "quantitative", "scale": {"domain": [0, 3.4], "nice": false, "zero": false},
              "axis": {"orient": "left", "values": [0,0.1,0.2,0.3,0.4,0.5,0.6,0.7,0.8,0.9,1,1.1,1.2,1.3,1.4,1.5,1.6,1.7,1.8,1.9,2,2.1,2.2,2.3,2.4,2.5,2.6,2.7,2.8,2.9,3,3.1,3.2,3.3], "format": "~g",
                       "labelExpr": "indexof([0,0.5,1,1.5,2,2.5,3], datum.value) >= 0 ? datum.label : ''",
                       "title": "data/2γNNLO", "titleAnchor": "end", "titleX": -46, "labelPadding": 11,
                       "tickSize": {"condition": {"test": "indexof([0,0.5,1,1.5,2,2.5,3], datum.value) >= 0", "value": -7}, "value": -3.5}}},
        "y2": {"field": "g2hi"}
       }},
      {"data": {"values": [{}]}, "mark": {"type": "rule", "color": "#000", "strokeWidth": 1, "strokeDash": [4, 3]},
       "encoding": {
        "x": {"datum": 0, "type": "quantitative", "axis": {"orient": "top", "values": [0,0.1,0.2,0.3,0.4,0.5,0.6,0.7,0.8,0.9,1,1.1,1.2,1.3,1.4,1.5,1.6,1.7,1.8,1.9,2,2.1,2.2,2.3,2.4,2.5,2.6,2.7,2.8,2.9,3,3.1], "labels": false, "title": null, "tickSize": {"condition": {"test": "indexof([0,0.5,1,1.5,2,2.5,3], datum.value) >= 0", "value": -5}, "value": -2.5}}},
        "x2": {"datum": 3.1416},
        "y": {"datum": 1, "type": "quantitative", "axis": {"orient": "right", "values": [0,0.1,0.2,0.3,0.4,0.5,0.6,0.7,0.8,0.9,1,1.1,1.2,1.3,1.4,1.5,1.6,1.7,1.8,1.9,2,2.1,2.2,2.3,2.4,2.5,2.6,2.7,2.8,2.9,3,3.1,3.2,3.3], "labels": false, "title": null, "tickSize": {"condition": {"test": "indexof([0,0.5,1,1.5,2,2.5,3], datum.value) >= 0", "value": -7}, "value": -3.5}}}
       }},
      {"mark": {"type": "rule", "color": "#222", "strokeWidth": 1.2},
       "encoding": {"x": {"field": "lo", "type": "quantitative", "axis": null}, "x2": {"field": "hi"}, "y": {"field": "r2", "type": "quantitative", "axis": null}}},
      {"mark": {"type": "errorbar", "color": "#000", "thickness": 1.3, "clip": true},
       "encoding": {"x": {"field": "c", "type": "quantitative", "axis": null}, "y": {"field": "r2", "type": "quantitative", "axis": null}, "yError": {"field": "r2e"}}},
      {"mark": {"type": "point", "filled": true, "color": "#000", "size": 22, "opacity": 1},
       "encoding": {"x": {"field": "c", "type": "quantitative", "axis": null}, "y": {"field": "r2", "type": "quantitative", "axis": null}}}
     ]
    }
   ]
  }
 ]
}
]
}
